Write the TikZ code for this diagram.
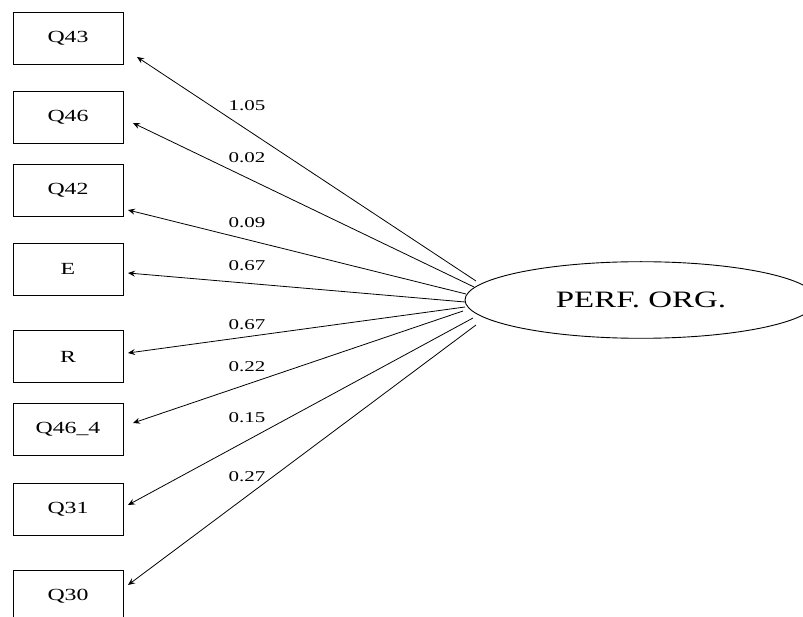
\documentclass[tikz,border=0pt]{standalone}
\usepackage{fontspec}
\setmainfont{Liberation Serif}[FakeStretch=1.4]
\usetikzlibrary{arrows.meta,shapes.geometric}
\tikzset{
  obsbox/.style={draw, line width=0.9pt, minimum width=110pt, minimum height=52pt, inner sep=0pt, font=\fontsize{17pt}{20pt}\selectfont},
  latent/.style={draw, ellipse, line width=0.9pt, minimum width=352pt, minimum height=76.6pt, inner sep=0pt, font=\fontsize{23.5pt}{27pt}\selectfont},
  loadlabel/.style={inner sep=0pt, font=\fontsize{15pt}{18pt}\selectfont},
  loadarrow/.style={line width=0.8pt, -{Stealth[length=7pt,width=6pt,inset=2.5pt]}}
}
\begin{document}
\begin{tikzpicture}[x=1pt,y=-1pt]
\useasboundingbox (0,0) rectangle (803,617);
\clip (0,0) rectangle (803,617);
% observed variables
\node[obsbox] (b1) at (68,38.3) {Q43};
\node[obsbox] (b2) at (68,117) {Q46};
\node[obsbox] (b3) at (68,190) {Q42};
\node[obsbox] (b4) at (68,269.3) {E};
\node[obsbox] (b5) at (68,356.7) {R};
\node[obsbox] (b6) at (68,429.7) {Q46\_4};
\node[obsbox] (b7) at (68,509) {Q31};
\node[obsbox] (b8) at (68,596) {Q30};
% latent variable
\node[latent] (perf) at (641,300) {PERF. ORG.};
% connector end points
\coordinate (s1) at (476,281);
\coordinate (s2) at (474,287);
\coordinate (s3) at (466,294);
\coordinate (s4) at (465,302);
\coordinate (s5) at (465,307);
\coordinate (s6) at (463,311);
\coordinate (s7) at (473,318);
\coordinate (s8) at (476,325);
\coordinate (t1) at (137,57);
\coordinate (t2) at (133,123);
\coordinate (t3) at (128,210);
\coordinate (t4) at (128,273);
\coordinate (t5) at (128,353);
\coordinate (t6) at (133,423);
\coordinate (t7) at (128,505);
\coordinate (t8) at (128,585);
\draw[loadarrow] (s1) -- (t1);
\draw[loadarrow] (s2) -- (t2);
\draw[loadarrow] (s3) -- (t3);
\draw[loadarrow] (s4) -- (t4);
\draw[loadarrow] (s5) -- (t5);
\draw[loadarrow] (s6) -- (t6);
\draw[loadarrow] (s7) -- (t7);
\draw[loadarrow] (s8) -- (t8);
% loadings
\node[loadlabel] (l1) at (247,105.5) {1.05};
\node[loadlabel] (l2) at (247,157.5) {0.02};
\node[loadlabel] (l3) at (247,222.5) {0.09};
\node[loadlabel] (l4) at (247,265.5) {0.67};
\node[loadlabel] (l5) at (247,325) {0.67};
\node[loadlabel] (l6) at (247,366.5) {0.22};
\node[loadlabel] (l7) at (247,417.5) {0.15};
\node[loadlabel] (l8) at (247,477) {0.27};
\end{tikzpicture}
\end{document}
